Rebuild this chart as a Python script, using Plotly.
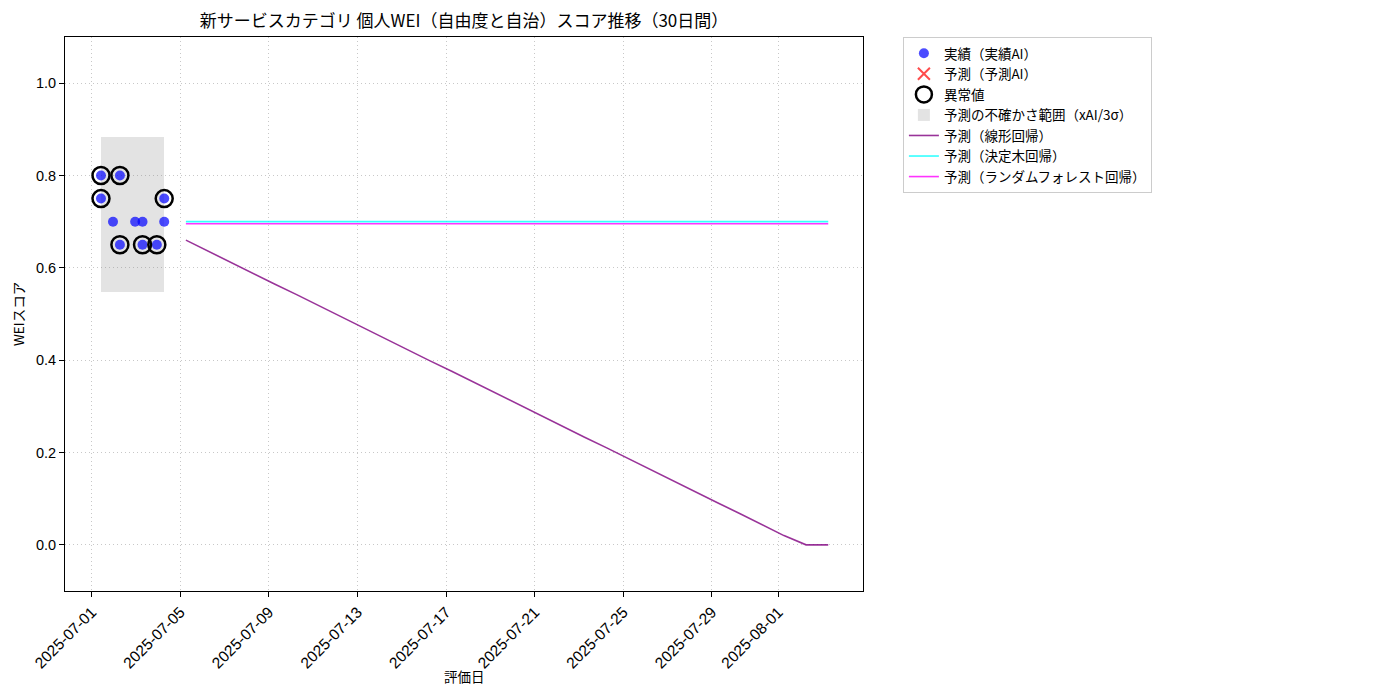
import pandas as pd
import plotly.graph_objects as go

# ---- data ----
actual_dates = ["2025-07-01 10:00", "2025-07-01 10:00", "2025-07-01 23:00",
                "2025-07-02 06:30", "2025-07-02 06:30", "2025-07-02 23:00",
                "2025-07-03 07:00", "2025-07-03 07:00", "2025-07-03 22:30",
                "2025-07-04 06:30", "2025-07-04 06:30"]
actual_scores = [0.80, 0.75, 0.70, 0.80, 0.65, 0.70, 0.70, 0.65, 0.65, 0.75, 0.70]
anomaly_flags = [1, 1, 0, 1, 1, 0, 0, 1, 1, 1, 0]

band_start = "2025-07-01 10:00"
band_end = "2025-07-04 06:30"
band_lower = 0.548
band_upper = 0.883

pred_start = "2025-07-05 06:00"
pred_days = 30
linear_pred = [0.660, 0.636, 0.613, 0.589, 0.565, 0.542, 0.518, 0.494, 0.470, 0.447,
               0.423, 0.399, 0.376, 0.352, 0.328, 0.305, 0.281, 0.257, 0.233, 0.210,
               0.186, 0.162, 0.139, 0.115, 0.091, 0.068, 0.044, 0.020, 0.0, 0.0]
tree_pred = [0.700] * 30
forest_pred = [0.6955] * 30

xtick_vals = ["2025-07-01", "2025-07-05", "2025-07-09", "2025-07-13", "2025-07-17",
              "2025-07-21", "2025-07-25", "2025-07-29", "2025-08-01"]
ytick_vals = [0.0, 0.2, 0.4, 0.6, 0.8, 1.0]

pred_dates = pd.date_range(pred_start, periods=pred_days, freq="D")
anom_x = [d for d, f in zip(actual_dates, anomaly_flags) if f]
anom_y = [s for s, f in zip(actual_scores, anomaly_flags) if f]

b0, b1 = pd.Timestamp(band_start), pd.Timestamp(band_end)
band_mid = b0 + (b1 - b0) / 2
band_width_ms = (b1 - b0).total_seconds() * 1000

FONT = "Noto Sans CJK JP"
fig = go.Figure()

# uncertainty band (bar spanning the actual period)
fig.add_trace(go.Bar(
    x=[band_mid], y=[band_upper - band_lower], base=[band_lower], width=[band_width_ms],
    marker=dict(color="rgba(128,128,128,0.22)", line=dict(width=0)),
    name="予測の不確かさ範囲（xAI/3σ）", legendrank=4, hoverinfo="skip"))

fig.add_trace(go.Scatter(
    x=actual_dates, y=actual_scores, mode="markers", name="実績（実績AI）",
    marker=dict(color="rgba(0,0,255,0.7)", size=10, line=dict(width=0)), legendrank=1))

fig.add_trace(go.Scatter(
    x=[None], y=[None], mode="markers", name="予測（予測AI）",
    marker=dict(symbol="x-thin-open", color="rgba(255,0,0,0.7)", size=12,
                line=dict(width=2, color="rgba(255,0,0,0.7)")), legendrank=2))

fig.add_trace(go.Scatter(
    x=anom_x, y=anom_y, mode="markers", name="異常値",
    marker=dict(symbol="circle-open", color="black", size=17,
                line=dict(width=2.5, color="black")), legendrank=3))

fig.add_trace(go.Scatter(
    x=pred_dates, y=linear_pred, mode="lines", name="予測（線形回帰）",
    line=dict(color="rgba(128,0,128,0.8)", width=1.6), legendrank=5))
fig.add_trace(go.Scatter(
    x=pred_dates, y=tree_pred, mode="lines", name="予測（決定木回帰）",
    line=dict(color="rgba(0,255,255,0.8)", width=1.6), legendrank=6))
fig.add_trace(go.Scatter(
    x=pred_dates, y=forest_pred, mode="lines", name="予測（ランダムフォレスト回帰）",
    line=dict(color="rgba(255,0,255,0.8)", width=1.6), legendrank=7))

fig.update_layout(
    width=1400, height=700,
    margin=dict(l=57, r=545, t=29, b=117, autoexpand=False),
    paper_bgcolor="white", plot_bgcolor="white",
    font=dict(family=FONT, size=13, color="black"),
    title=dict(text="新サービスカテゴリ 個人WEI（自由度と自治）スコア推移（30日間）",
               x=456 / 1400, xanchor="center", y=1 - 13 / 700, yanchor="middle",
               font=dict(size=17)),
    legend=dict(x=1.05, y=1.0, xanchor="left", yanchor="top",
                bgcolor="white", bordercolor="#cccccc", borderwidth=1,
                font=dict(size=13.5), tracegroupgap=0, itemwidth=30),
    showlegend=True, bargap=0,
    annotations=[dict(text="評価日", xref="paper", yref="paper", x=0.5, y=-85 / 554,
                      xanchor="center", yanchor="middle", showarrow=False,
                      font=dict(size=13.5))],
)
fig.update_xaxes(
    range=["2025-06-29 19:00", "2025-08-04 19:40"], automargin=False,
    tickvals=xtick_vals, ticktext=xtick_vals, tickangle=-45,
    tickfont=dict(family="Liberation Sans", size=15.5, color="black"),
    showgrid=True, gridcolor="#c8c8c8", griddash="1px,3px", gridwidth=1,
    showline=True, linecolor="black", linewidth=1, mirror=True,
    ticks="outside", ticklen=5, tickcolor="black", zeroline=False)
fig.update_yaxes(
    range=[-0.1, 1.1], tickvals=ytick_vals, tickformat=".1f", automargin=False,
    tickfont=dict(family="Liberation Sans", size=14.5, color="black"),
    showgrid=True, gridcolor="#c8c8c8", griddash="1px,3px", gridwidth=1,
    showline=True, linecolor="black", linewidth=1, mirror=True,
    ticks="outside", ticklen=5, tickcolor="black", zeroline=False,
    title=dict(text="WEIスコア", standoff=14, font=dict(size=13.5)))

fig.write_html("out.html")
